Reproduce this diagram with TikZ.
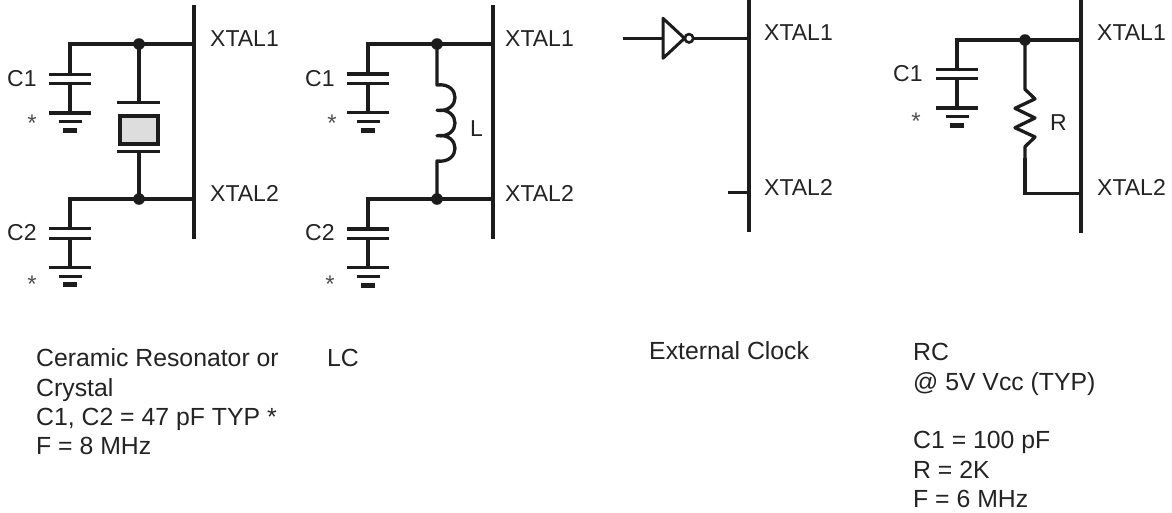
\documentclass[tikz,border=0pt]{standalone}
\usepackage{fontspec}
\setmainfont{Liberation Sans}
\definecolor{ink}{RGB}{28,28,28}
\definecolor{textc}{RGB}{35,35,35}
\definecolor{starc}{RGB}{80,80,80}
\definecolor{xfill}{RGB}{221,221,221}
\tikzset{
  wire/.style={line width=3.3pt, draw=ink, line cap=butt, line join=miter},
  pinbar/.style={line width=3.6pt, draw=ink, line cap=butt},
  jdot/.style={fill=ink},
  lbl/.style={inner sep=0pt, text=textc, anchor=west, font=\fontsize{23pt}{28pt}\selectfont},
  txt/.style={inner sep=0pt, text=textc, anchor=base west, font=\fontsize{24.8pt}{29pt}\selectfont},
  starlbl/.style={inner sep=0pt, text=starc, anchor=base, font=\fontsize{24pt}{28pt}\selectfont},
  capgnd/.pic={
    \draw[wire] (-21,0) -- (21,0);
    \draw[wire] (-21,9.5) -- (21,9.5);
    \draw[wire] (0,9.5) -- (0,38.8);
    \draw[wire] (-21,38.8) -- (21,38.8);
    \draw[wire] (-11.5,47.5) -- (11.5,47.5);
    \draw[wire, line width=5pt] (-7,56) -- (7,56);
  }
}
\begin{document}
\begin{tikzpicture}[x=1pt,y=-1pt]
\useasboundingbox (0,0) rectangle (1172,512);

% ---------- Panel 1: ceramic resonator / crystal ----------
\draw[pinbar] (194,5) -- (194,239);
\draw[wire] (70,74.3) |- (194,44);
\draw[wire] (70,228.7) |- (194,199);
\pic at (70,74.3) {capgnd};
\pic at (70,228.7) {capgnd};
\coordinate (p1a) at (139,44);
\coordinate (p1b) at (139,199);
\draw[wire] (p1a) -- (139,102.3);
\draw[wire] (117,102.3) -- (160,102.3);
\draw[line width=4pt, draw=ink, fill=xfill] (120,116.3) rectangle (158,143.7);
\draw[wire] (117,151.7) -- (160,151.7);
\draw[wire] (139,151.7) -- (p1b);
\fill[jdot] (p1a) circle[radius=5.8pt];
\fill[jdot] (p1b) circle[radius=5.8pt];
\node[lbl] (p1x1) at (210,38.5) {XTAL1};
\node[lbl] (p1x2) at (210,193) {XTAL2};
\node[lbl] (p1c1) at (7,79) {C1};
\node[lbl] (p1c2) at (7,233) {C2};
\node[starlbl] (p1s1) at (32,131) {*};
\node[starlbl] (p1s2) at (32,292) {*};

% ---------- Panel 2: LC ----------
\draw[pinbar] (493,5) -- (493,239);
\draw[wire] (368,74) |- (493,44);
\draw[wire] (368,229) |- (493,199);
\pic at (368,74) {capgnd};
\pic at (368,229) {capgnd};
\coordinate (p2a) at (437,44);
\coordinate (p2b) at (437,199);
\draw[wire, line join=round] (p2a) -- (437,85)
  .. controls (461,82) and (461,113) .. (437,110.3)
  .. controls (461,107.3) and (461,138.7) .. (437,135.7)
  .. controls (461,132.7) and (461,164) .. (437,161)
  -- (p2b);
\fill[jdot] (p2a) circle[radius=5.8pt];
\fill[jdot] (p2b) circle[radius=5.8pt];
\node[lbl] (p2l) at (470,129) {L};
\node[lbl] (p2x1) at (505,39) {XTAL1};
\node[lbl] (p2x2) at (505,193) {XTAL2};
\node[lbl] (p2c1) at (305,79) {C1};
\node[lbl] (p2c2) at (305,233) {C2};
\node[starlbl] (p2s1) at (332,131) {*};
\node[starlbl] (p2s2) at (330,292) {*};

% ---------- Panel 3: external clock ----------
\draw[pinbar] (749,0) -- (749,232);
\coordinate (p3in) at (623,38.3);
\coordinate (p3tl) at (663,38.3);
\draw[wire] (p3in) -- (p3tl);
\draw[line width=3pt, draw=ink, line join=round] (663,18.3) -- (684.5,38.3) -- (663,58.3) -- cycle;
\draw[line width=2.6pt, draw=ink] (689,38.3) circle[radius=4.2pt];
\draw[wire] (693.2,38.3) -- (749,38.3);
\draw[wire] (728,192.3) -- (749,192.3);
\node[lbl] (p3x1) at (764,33) {XTAL1};
\node[lbl] (p3x2) at (764,187) {XTAL2};

% ---------- Panel 4: RC ----------
\draw[pinbar] (1081,0) -- (1081,233);
\draw[wire] (957,69.3) |- (1081,40);
\pic at (957,69.3) {capgnd};
\coordinate (p4a) at (1025,40);
\draw[wire, line join=round] (p4a) -- (1025,89.3) -- (1035,98.9) -- (1015,108.3) -- (1035,118)
  -- (1015,127.7) -- (1035,137) -- (1025,146.7) -- (1025,160);
\draw[wire] (1025,158) |- (1081,193.3);
\fill[jdot] (p4a) circle[radius=5.8pt];
\node[lbl] (p4r) at (1050,123) {R};
\node[lbl] (p4x1) at (1097,33) {XTAL1};
\node[lbl] (p4x2) at (1097,187) {XTAL2};
\node[lbl] (p4c1) at (893,74) {C1};
\node[starlbl] (p4s1) at (916,129) {*};

% ---------- captions ----------
\node[txt] (t1a) at (36,366.6) {Ceramic Resonator or};
\node[txt] (t1b) at (36,396) {Crystal};
\node[txt] (t1c) at (36,425.4) {C1, C2 = 47 pF TYP *};
\node[txt] (t1d) at (36,454.8) {F = 8 MHz};
\node[txt] (t2) at (327,366.6) {LC};
\node[txt] (t3) at (649,359) {External Clock};
\node[txt] (t4a) at (913,360.6) {RC};
\node[txt] (t4b) at (913,390) {@ 5V Vcc (TYP)};
\node[txt] (t4c) at (913,448.8) {C1 = 100 pF};
\node[txt] (t4d) at (913,478.2) {R = 2K};
\node[txt] (t4e) at (913,507.6) {F = 6 MHz};
\end{tikzpicture}
\end{document}
